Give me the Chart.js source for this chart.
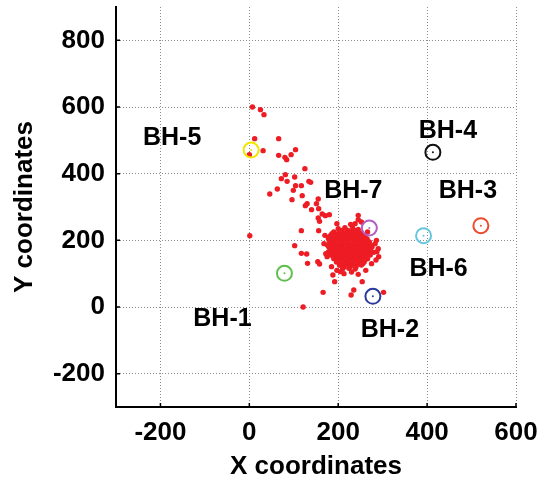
<!DOCTYPE html>
<html>
<head>
<meta charset="utf-8">
<script src="https://cdn.jsdelivr.net/npm/chart.js@4"></script>
<style>
  html, body { margin: 0; padding: 0; background: #fff; }
</style>
</head>
<body>
<canvas id="chart" width="546" height="482"></canvas>
<script>
// borehole positions
const boreholeNames = ["BH-1", "BH-2", "BH-3", "BH-4", "BH-5", "BH-6", "BH-7"];
const boreholeX = [79, 278, 521, 413, 4, 392, 270];
const boreholeY = [101, 32, 244, 464, 471, 214, 237];
const boreholeColors = ["#5cc04a", "#2b3a9c", "#ee4a2c", "#111111", "#f2e600", "#66c6e0", "#b25ec4"];

// scattered events along the trend towards BH-5
const outlyingEvents = [
    [7, 600], [25, 592], [33, 577], [12, 505], [66, 505], [31, 469], [104, 472],
    [0, 457], [66, 455], [80, 449], [84, 442], [94, 457], [125, 415], [81, 397],
    [72, 385], [102, 390], [85, 377], [134, 377], [138, 374], [104, 364], [117, 364],
    [63, 354], [46, 339], [99, 350], [119, 334], [155, 324], [96, 322], [130, 310],
    [126, 304], [151, 310], [156, 295], [140, 292], [164, 279], [171, 274], [180, 277],
    [155, 267], [158, 257], [245, 275], [1, 214], [117, 229], [156, 229], [197, 250],
    [102, 184], [117, 161], [129, 159], [131, 131], [154, 136], [158, 129], [175, 151],
    [185, 121], [188, 96], [205, 106], [192, 76], [166, 44], [235, 51], [229, 36],
    [254, 76], [287, 166], [291, 151], [285, 141], [302, 44], [121, 0], [266, 225]
];

// dense cluster of events around (220, 175)
const clusterEvents = [
    [200, 235], [215, 238], [232, 240], [245, 233], [238, 250], [245, 262], [252, 255], [228, 248],
    [208, 230], [222, 230], [238, 230],
    [190, 225], [205, 226], [218, 224], [230, 227], [242, 224], [252, 222],
    [186, 220], [199, 220], [212, 220], [225, 220], [238, 220], [250, 220],
    [183, 215], [196, 214], [210, 216], [222, 213], [236, 215], [248, 212], [260, 214],
    [180, 210], [193, 210], [206, 210], [219, 210], [232, 210], [245, 210], [257, 210],
    [178, 205], [190, 204], [203, 206], [215, 203], [228, 205], [240, 203], [253, 205], [265, 204],
    [184, 200], [197, 200], [210, 200], [222, 200], [235, 200], [248, 200], [262, 200],
    [180, 195], [194, 196], [207, 193], [220, 195], [233, 194], [246, 196], [258, 193], [270, 195],
    [182, 190], [194, 190], [206, 190], [219, 190], [232, 190], [244, 190], [256, 190], [268, 190],
    [176, 185], [188, 186], [200, 184], [213, 185], [225, 186], [238, 184], [250, 185], [262, 186], [275, 184],
    [179, 180], [192, 180], [204, 180], [216, 180], [229, 180], [241, 180], [253, 180], [264, 180], [276, 180],
    [182, 175], [195, 176], [208, 174], [220, 175], [232, 177], [245, 174], [257, 175], [268, 176],
    [185, 170], [198, 170], [210, 170], [223, 170], [236, 170], [249, 170], [261, 170], [272, 170],
    [178, 165], [190, 166], [203, 164], [215, 165], [228, 166], [240, 164], [252, 165], [265, 166], [280, 164],
    [182, 160], [195, 160], [208, 160], [220, 160], [233, 160], [246, 160], [258, 160], [270, 160],
    [185, 155], [198, 156], [210, 154], [222, 155], [235, 156], [247, 154], [260, 155], [272, 156],
    [192, 150], [204, 150], [216, 150], [229, 150], [241, 150], [254, 150], [265, 150],
    [190, 145], [203, 146], [215, 144], [228, 145], [240, 146], [253, 144], [266, 145],
    [197, 140], [210, 140], [222, 140], [235, 140], [248, 140], [260, 140],
    [196, 135], [209, 136], [221, 134], [233, 135], [246, 136], [258, 134],
    [205, 130], [218, 130], [232, 130], [244, 130], [255, 130],
    [203, 125], [215, 126], [228, 124], [240, 125], [252, 126],
    [213, 120], [226, 120], [240, 120],
    [210, 115], [224, 116], [238, 114],
    [170, 215], [168, 190], [172, 160], [283, 190], [290, 175], [286, 200],
    [262, 110], [230, 105], [213, 100], [245, 98], [275, 130], [197, 110]
];

const xTickValues = [-200, 0, 200, 400, 600];
const yTickValues = [-200, 0, 200, 400, 600, 800];
const xMin = -300, xMax = 600;
const yMin = -300, yMax = 900;

const fontFamily = "'Liberation Sans', Arial, Helvetica, sans-serif";

const redPoints = outlyingEvents.concat(clusterEvents).map(function(p) {
    return { x: p[0], y: p[1] };
});
const boreholePoints = boreholeX.map(function(x, i) {
    return { x: x, y: boreholeY[i] };
});

// pixel offsets of each borehole name from its marker
const labelOffsets = [[-62, 46], [17, 34], [-13, -35], [15, -21], [-79, -12], [15, 33], [-16, -37]];

const boreholeLabels = {
    id: "boreholeLabels",
    afterDatasetsDraw(chart) {
        const ctx = chart.ctx;
        const xs = chart.scales.x;
        const ys = chart.scales.y;
        ctx.save();
        ctx.font = "bold 25px " + fontFamily;
        ctx.fillStyle = "#000";
        ctx.textAlign = "center";
        ctx.textBaseline = "middle";
        boreholeNames.forEach(function(name, i) {
            const px = xs.getPixelForValue(boreholeX[i]) + labelOffsets[i][0];
            const py = ys.getPixelForValue(boreholeY[i]) + labelOffsets[i][1];
            ctx.fillText(name, px, py);
        });
        ctx.restore();
    }
};

// short tick marks pointing into the plot
const innerTicks = {
    id: "innerTicks",
    afterDraw(chart) {
        const ctx = chart.ctx;
        const area = chart.chartArea;
        ctx.save();
        ctx.strokeStyle = "#000";
        ctx.lineWidth = 1.5;
        ctx.beginPath();
        chart.scales.x.ticks.forEach(function(t) {
            const px = chart.scales.x.getPixelForValue(t.value);
            ctx.moveTo(px, area.bottom);
            ctx.lineTo(px, area.bottom - 4);
        });
        chart.scales.y.ticks.forEach(function(t) {
            const py = chart.scales.y.getPixelForValue(t.value);
            ctx.moveTo(area.left, py);
            ctx.lineTo(area.left + 4, py);
        });
        ctx.stroke();
        ctx.restore();
    }
};

function fixedTicks(values) {
    return function(scale) {
        scale.ticks = values.map(function(v) { return { value: v }; });
    };
}

const gridStyle = { color: "#8a8a8a", lineWidth: 1, drawTicks: false };
const borderStyle = { display: true, color: "#000", width: 2, dash: [1, 2] };

new Chart(document.getElementById("chart"), {
    type: "scatter",
    data: {
        datasets: [
            {
                label: "boreholes",
                data: boreholePoints,
                pointStyle: "circle",
                pointRadius: 7.5,
                pointBorderWidth: 2,
                pointBackgroundColor: "rgba(0,0,0,0)",
                pointBorderColor: boreholeColors,
                order: 0
            },
            {
                label: "borehole centres",
                data: boreholePoints,
                pointRadius: 1,
                pointBorderWidth: 0,
                pointBackgroundColor: boreholeColors,
                order: 0
            },
            {
                label: "events",
                data: redPoints,
                pointRadius: 2.7,
                pointBorderWidth: 0,
                pointBackgroundColor: "#ee1c24",
                order: 1
            }
        ]
    },
    options: {
        responsive: false,
        animation: false,
        layout: { padding: { top: 7, right: 30, bottom: 0, left: 0 }, autoPadding: false },
        plugins: {
            legend: { display: false },
            tooltip: { enabled: false }
        },
        scales: {
            x: {
                type: "linear",
                min: xMin,
                max: xMax,
                afterBuildTicks: fixedTicks(xTickValues),
                afterFit: function(scale) {
                    scale.height = 75;
                    scale.paddingLeft = 0;
                    scale.paddingRight = 0;
                },
                grid: gridStyle,
                border: borderStyle,
                ticks: {
                    padding: 10,
                    color: "#000",
                    font: { family: fontFamily, size: 26, weight: "bold" }
                },
                title: {
                    display: true,
                    text: "X coordinates",
                    color: "#000",
                    padding: 0,
                    font: { family: fontFamily, size: 26, weight: "bold" }
                }
            },
            y: {
                type: "linear",
                min: yMin,
                max: yMax,
                afterBuildTicks: fixedTicks(yTickValues),
                afterFit: function(scale) {
                    scale.width = 116;
                    scale.paddingTop = 0;
                    scale.paddingBottom = 0;
                },
                grid: gridStyle,
                border: borderStyle,
                ticks: {
                    padding: 11,
                    color: "#000",
                    font: { family: fontFamily, size: 26, weight: "bold" }
                },
                title: {
                    display: true,
                    text: "Y coordinates",
                    color: "#000",
                    padding: { top: 9, bottom: 0 },
                    font: { family: fontFamily, size: 26, weight: "bold" }
                }
            }
        }
    },
    plugins: [boreholeLabels, innerTicks]
});
</script>
</body>
</html>
